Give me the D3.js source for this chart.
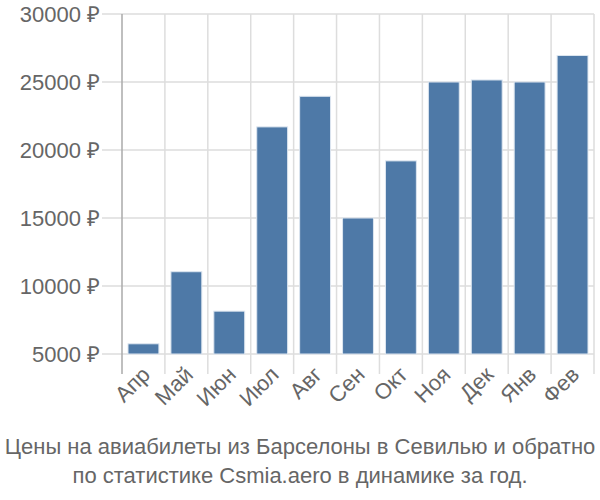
<!DOCTYPE html>
<html><head><meta charset="utf-8">
<script src="https://cdn.jsdelivr.net/npm/d3@7"></script>
<style>body{margin:0;background:#fff}svg{display:block}</style>
</head><body>
<svg id="c" width="600" height="500"></svg>
<script>
const months = ["Апр","Май","Июн","Июл","Авг","Сен","Окт","Ноя","Дек","Янв","Фев"];
const prices = [5750, 11050, 8150, 21700, 23950, 15000, 19200, 25000, 25150, 25000, 26950];
const yTicks = [5000, 10000, 15000, 20000, 25000, 30000];
const titleLines = ["Цены на авиабилеты из Барселоны в Севилью и обратно","по статистике Csmia.aero в динамике за год."];

(function(){
const svg = d3.select("#c");
const font = "'Liberation Sans', Arial, sans-serif";
const pLeft = 122, pRight = 594, pTop = 14, pBottom = 354;

const y = d3.scaleLinear().domain([5000, 30000]).range([pBottom, pTop]);
const xg = d3.scaleBand().domain(months).range([pLeft, pRight]).padding(0);
const x = d3.scaleBand().domain(months).range([pLeft, pRight]).paddingInner(0.28).paddingOuter(0.14);

svg.append("g").selectAll("line").data(yTicks).join("line")
  .attr("x1", pLeft - 20).attr("x2", pRight)
  .attr("y1", d => y(d)).attr("y2", d => y(d))
  .attr("stroke", "#dddddd").attr("stroke-width", 1.5);
svg.append("g").selectAll("line").data(months).join("line")
  .attr("x1", d => xg(d) + xg.step()).attr("x2", d => xg(d) + xg.step())
  .attr("y1", pTop).attr("y2", pBottom + 20)
  .attr("stroke", "#dddddd").attr("stroke-width", 1.5);

svg.append("g").selectAll("rect").data(months).join("rect")
  .attr("x", d => x(d)).attr("width", x.bandwidth())
  .attr("y", (d,i) => y(prices[i])).attr("height", (d,i) => pBottom - y(prices[i]))
  .attr("fill", "#4e79a7").attr("stroke", "#dde6f0").attr("stroke-width", 1);

svg.append("line").attr("x1", pLeft).attr("x2", pLeft).attr("y1", pTop).attr("y2", pBottom + 20)
  .attr("stroke", "#aaaaaa").attr("stroke-width", 1.5);

svg.append("g").selectAll("text").data(yTicks).join("text")
  .attr("x", 100).attr("y", d => y(d)).attr("dy", "0.35em")
  .attr("text-anchor", "end").attr("font-family", font).attr("font-size", 22)
  .attr("fill", "#666").text(d => d + " ₽");

svg.append("g").selectAll("text").data(months).join("text")
  .attr("transform", d => `translate(${x(d) + x.bandwidth()/2 + 8},${pBottom + 22}) rotate(-45)`)
  .attr("text-anchor", "end").attr("font-family", font).attr("font-size", 22)
  .attr("fill", "#666").text(d => d);

svg.append("g").selectAll("text").data(titleLines).join("text")
  .attr("x", 300).attr("y", (d,i) => 454 + i*29)
  .attr("text-anchor", "middle").attr("font-family", font).attr("font-size", 22)
  .attr("fill", "#666").text(d => d);
})();
</script>
</body></html>
